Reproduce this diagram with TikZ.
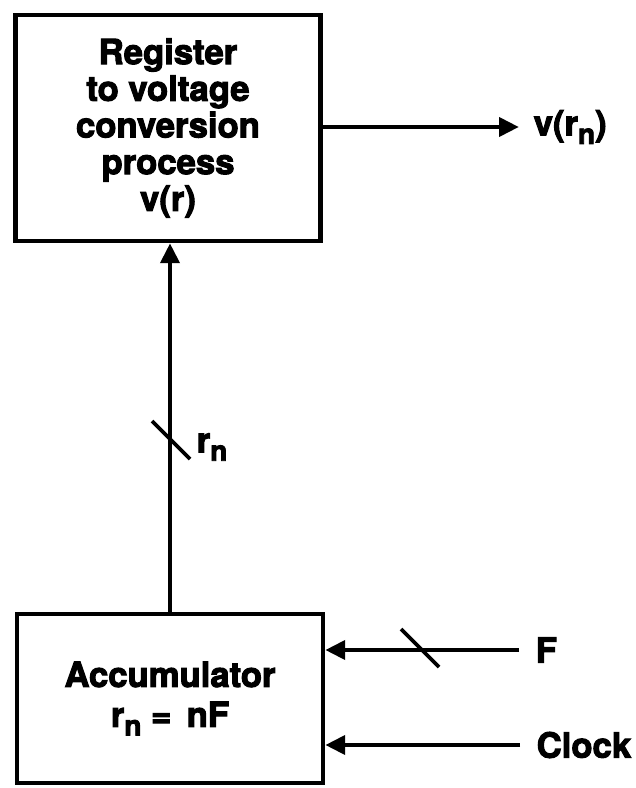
\documentclass[tikz,border=0pt]{standalone}
\usepackage{fontspec}
\setmainfont{TeX Gyre Heros}[BoldFeatures={FakeBold=3}]
\usetikzlibrary{positioning,arrows.meta,calc}
\newcommand{\lowsub}[1]{\raisebox{-0.45ex}{\fontsize{21}{21}\selectfont #1}}

\begin{document}
\begin{tikzpicture}[
  x=0.75pt, y=-0.75pt,
  >={Triangle[length=15pt,width=14pt]},
  box/.style={draw,line width=3.3pt,align=center,inner sep=0pt},
  conn/.style={line width=3.6pt},
  slashmark/.style={line width=2.8pt},
  every node/.style={font=\fontsize{26}{27.5}\selectfont\bfseries}
]
\useasboundingbox (0,0) rectangle (635,788);
\node[box,minimum width=229pt,minimum height=169.5pt] (reg) at (168,128)
  {Register\\to voltage\\conversion\\process\\v(r)};
\node[box,minimum width=229.5pt,minimum height=127pt,
      font=\fontsize{26}{30}\selectfont\bfseries] (acc) at (170,698.5)
  {Accumulator\\r\lowsub{n} = \,nF};
\node[anchor=west] (vout) at (529,127) {v(r\lowsub{n})};
\node[anchor=west] (fin) at (531,650) {F};
\node[anchor=west] (clk) at (532,745) {Clock};
\node[anchor=west] (rlab) at (192,447) {r\lowsub{n}};
\coordinate (bus) at (171,440);
\coordinate (fbus) at (420,648);
% output of the conversion block
\draw[conn,->] (reg.east |- vout) -- ($(vout.west)+(-10,0)$);
% register word up to the conversion block
\draw[conn,->] (acc.north) -- (acc.north |- reg.south);
\draw[slashmark] ($(bus)+(-19,-19)$) -- ($(bus)+(19,19)$);
% inputs of the accumulator
\draw[conn,->] ($(fin.west)+(-12,0)$) -- (acc.east |- fin);
\draw[slashmark] ($(fbus)+(-19,-19)$) -- ($(fbus)+(19,19)$);
\draw[conn,->] ($(clk.west)+(-12,0)$) -- (acc.east |- clk);
\end{tikzpicture}
\end{document}
